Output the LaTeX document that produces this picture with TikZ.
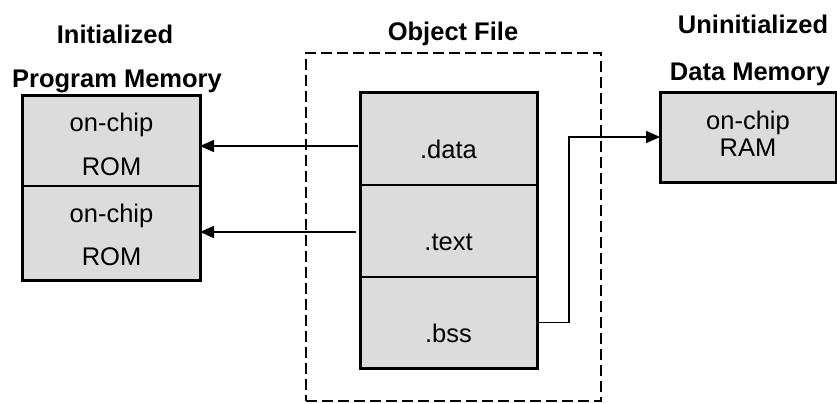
\documentclass[tikz,border=0pt]{standalone}
\usepackage{fontspec}
\setmainfont{Liberation Sans}
\usetikzlibrary{arrows.meta,calc}
\definecolor{cellgray}{RGB}{220,220,220}
\begin{document}
\begin{tikzpicture}[x=1bp,y=-1bp,
  cell/.style={draw=black, fill=cellgray, line width=1.5bp, inner sep=0pt, outer sep=0pt},
  frame/.style={draw=black, line width=3bp},
  txt/.style={anchor=base, inner sep=0pt, font=\fontsize{25.5bp}{30bp}\selectfont},
  head/.style={txt, font=\fontsize{25.5bp}{30bp}\selectfont\bfseries},
  conn/.style={draw=black, line width=1.5bp},
  arr/.style={conn, -{Triangle[length=14bp,width=12bp]}},
  fence/.style={draw=black, line width=1.5bp, dash pattern=on 11bp off 5bp}]
\useasboundingbox (0,0) rectangle (837,403);

% object file container
\node[fence, minimum width=295bp, minimum height=348bp, inner sep=0pt] (objfile) at (453.5,227) {};

% initialized program memory
\node[cell, minimum width=177bp, minimum height=91bp] (rom1) at (111.5,140.5) {};
\node[cell, minimum width=177bp, minimum height=94bp] (rom2) at (111.5,233) {};
\draw[frame] (rom1.north west) rectangle (rom2.south east);
\node[txt] (rom1a) at (111.5,131) {on-chip};
\node[txt] (rom1b) at (111.5,175) {ROM};
\node[txt] (rom2a) at (111.5,222) {on-chip};
\node[txt] (rom2b) at (111.5,265) {ROM};

% object file sections
\node[cell, minimum width=177bp, minimum height=93bp] (data) at (448.5,138.5) {};
\node[cell, minimum width=177bp, minimum height=92bp] (text) at (448.5,231) {};
\node[cell, minimum width=177bp, minimum height=91bp] (bss) at (448.5,322.5) {};
\draw[frame] (data.north west) rectangle (bss.south east);
\node[txt] (datal) at (448.5,158) {.data};
\node[txt] (textl) at (448.5,250) {.text};
\node[txt] (bssl) at (448.5,342) {.bss};

% uninitialized data memory
\node[cell, minimum width=176bp, minimum height=90bp] (ram) at (748,137) {};
\draw[frame] (ram.north west) rectangle (ram.south east);
\node[txt] (rama) at (748,129) {on-chip};
\node[txt] (ramb) at (748,156) {RAM};

% headings
\node[head] (h1a) at (115,43) {Initialized};
\node[head] (h1b) at (117,87) {Program Memory};
\node[head] (h2) at (453,40) {Object File};
\node[head] (h3a) at (753,33) {Uninitialized};
\node[head] (h3b) at (750,80) {Data Memory};

% connectors
\coordinate (dsrc) at ($(data.west)+(-2,7.5)$);
\draw[arr] (dsrc) -- (dsrc -| rom1.east);
\coordinate (tsrc) at ($(text.west)+(-4,1)$);
\draw[arr] (tsrc) -- (tsrc -| rom2.east);
\coordinate (bend) at (569,0);
\draw[arr] (bss.east) -- (bss.east -| bend) |- (ram.west);
\end{tikzpicture}
\end{document}
